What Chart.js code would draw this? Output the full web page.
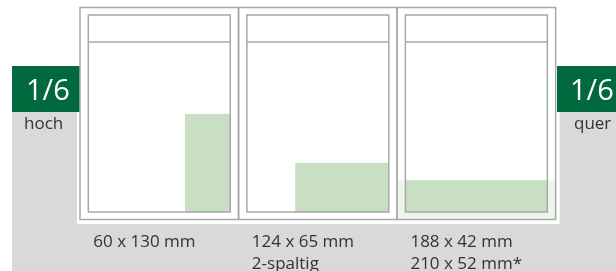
<!DOCTYPE html>
<html>
<head>
<meta charset="utf-8">
<script src="https://cdn.jsdelivr.net/npm/chart.js@4/dist/chart.umd.min.js"></script>
<style>
  html, body { margin: 0; padding: 0; background: #fff; }
  #c { display: block; }
</style>
</head>
<body>
<canvas id="c" width="616" height="271"></canvas>
<script>
// Anzeigenformate 1/6 Seite (Maße in mm)
const formats = ['60 x 130 mm', '124 x 65 mm', '188 x 42 mm'];
const formatNotes = ['', '2-spaltig', '210 x 52 mm*'];
const widthsMm = [60, 124, 188];
const heightsMm = [130, 65, 42];
const bleedWidthsMm = [0, 0, 210];
const bleedHeightsMm = [0, 0, 52];
const sideTitles = ['1/6', '1/6'];
const sideLabels = ['hoch', 'quer'];

const K = 0.755;          // px per mm
const PAGE_W = 210;       // page width, mm
const MARGIN = 11;        // type area margin, mm
const FONT = '"Open Sans", "Noto Sans", sans-serif';

const layout = {
  left: 80, top: 7.5, outerBottom: 219.5,
  innerTop: 15, headerLine: 42, innerBottom: 212
};

const pagePlugin = {
  id: 'pages',
  beforeDatasetsDraw(chart) {
    const ctx = chart.ctx;
    const x = chart.scales.x, y = chart.scales.y;
    const px = v => x.getPixelForValue(v);
    const py = v => y.getPixelForValue(v);
    const cellW = PAGE_W * K;
    const right = layout.left + cellW * formats.length;

    ctx.save();
    // grey backdrop
    ctx.fillStyle = '#d9d9d9';
    ctx.fillRect(px(12), py(112), px(616) - px(12), py(271) - py(112));
    // white panel
    ctx.fillStyle = '#ffffff';
    ctx.fillRect(px(layout.left - 3), py(0), px(right + 4) - px(layout.left - 3), py(224) - py(0));

    // side boxes
    const boxes = [[12, 80], [557, 616]];
    boxes.forEach((b, i) => {
      ctx.fillStyle = '#006a3e';
      ctx.fillRect(px(b[0]), py(66), px(b[1]) - px(b[0]), py(112) - py(66));
      ctx.fillStyle = '#ffffff';
      ctx.font = '29px ' + FONT;
      ctx.textBaseline = 'alphabetic';
      ctx.textAlign = 'left';
      ctx.fillText(sideTitles[i], px(i === 0 ? 26 : 570), py(100));
      ctx.fillStyle = '#333333';
      ctx.font = '17px ' + FONT;
      ctx.fillText(sideLabels[i], px(i === 0 ? 24 : 574), py(129));
    });

    formats.forEach((label, i) => {
      const cl = layout.left + cellW * i;
      const il = cl + MARGIN * K;
      const ir = cl + cellW - MARGIN * K;

      // bleed area
      if (bleedWidthsMm[i]) {
        const bw = bleedWidthsMm[i] * K, bh = bleedHeightsMm[i] * K;
        ctx.fillStyle = '#edf4ea';
        ctx.fillRect(px(cl + cellW - bw), py(layout.outerBottom - bh), bw, bh);
      }
      // ad area in type area, anchored bottom right
      const w = widthsMm[i] * K, h = heightsMm[i] * K;
      ctx.fillStyle = '#c9dfc3';
      ctx.fillRect(px(ir - w), py(layout.innerBottom - h), px(ir) - px(ir - w), py(layout.innerBottom) - py(layout.innerBottom - h));

      // frames
      ctx.strokeStyle = '#a8a8a8';
      ctx.lineWidth = 1.5;
      ctx.strokeRect(px(cl), py(layout.top), cellW, py(layout.outerBottom) - py(layout.top));
      ctx.strokeRect(px(il), py(layout.innerTop), ir - il, py(layout.innerBottom) - py(layout.innerTop));
      ctx.beginPath();
      ctx.moveTo(px(il), py(layout.headerLine));
      ctx.lineTo(px(ir), py(layout.headerLine));
      ctx.stroke();

      // labels
      ctx.fillStyle = '#333333';
      ctx.font = '17px ' + FONT;
      ctx.textAlign = 'left';
      ctx.fillText(label, px(il + 5), py(247));
      if (formatNotes[i]) ctx.fillText(formatNotes[i], px(il + 5), py(269));
    });
    ctx.restore();
  }
};

new Chart(document.getElementById('c'), {
  type: 'scatter',
  data: { datasets: [{ data: [] }] },
  options: {
    responsive: false,
    animation: false,
    layout: { padding: 0 },
    plugins: { legend: { display: false }, tooltip: { enabled: false } },
    scales: {
      x: { type: 'linear', min: 0, max: 616, display: false },
      y: { type: 'linear', min: 0, max: 271, reverse: true, display: false }
    }
  },
  plugins: [pagePlugin]
});
</script>
</body>
</html>
